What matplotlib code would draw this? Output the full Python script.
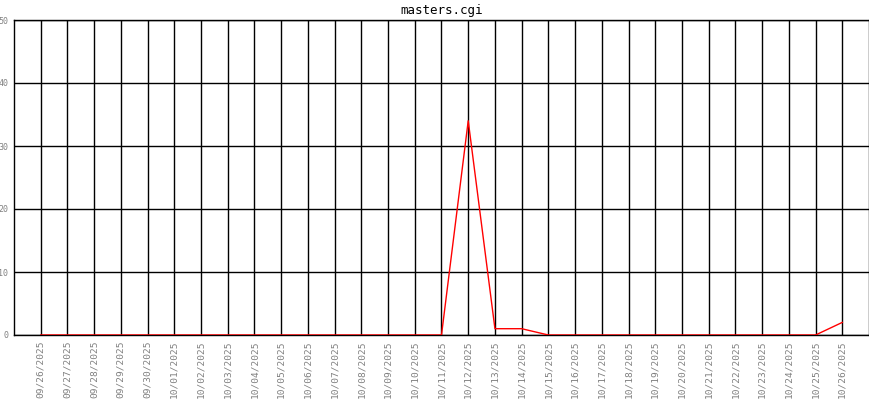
import matplotlib
matplotlib.use('Agg')
import matplotlib.pyplot as plt

# data
dates = ['09/26/2025', '09/27/2025', '09/28/2025', '09/29/2025', '09/30/2025',
         '10/01/2025', '10/02/2025', '10/03/2025', '10/04/2025', '10/05/2025',
         '10/06/2025', '10/07/2025', '10/08/2025', '10/09/2025', '10/10/2025',
         '10/11/2025', '10/12/2025', '10/13/2025', '10/14/2025', '10/15/2025',
         '10/16/2025', '10/17/2025', '10/18/2025', '10/19/2025', '10/20/2025',
         '10/21/2025', '10/22/2025', '10/23/2025', '10/24/2025', '10/25/2025',
         '10/26/2025']
hits = [0, 0, 0, 0, 0, 0, 0, 0, 0, 0, 0, 0, 0, 0, 0, 0, 34, 1, 1, 0,
        0, 0, 0, 0, 0, 0, 0, 0, 0, 0, 2]
yticks = [0, 10, 20, 30, 40, 50]

fig = plt.figure(figsize=(8.7, 4), dpi=100)
ax = fig.add_axes([14/870, 65/400, 855/870, 315/400])

x = list(range(len(dates)))
ax.plot(x, hits, color='red', lw=1, zorder=3)

ax.set_xlim(-1, 31)
ax.set_ylim(0, 50)
ax.set_xticks(x)
ax.set_xticklabels(dates, rotation=90, family='DejaVu Sans Mono', fontsize=6.8, color='#808080')
ax.set_yticks(yticks)
ax.set_yticklabels([str(v) for v in yticks], family='DejaVu Sans Mono', fontsize=6, color='#808080')
ax.tick_params(length=0, pad=4)
ax.grid(True, color='black', lw=1)
ax.set_axisbelow(True)
for s in ax.spines.values():
    s.set_linewidth(1)
ax.set_title('masters.cgi', family='DejaVu Sans Mono', fontsize=9, pad=4)

fig.savefig('out.png', dpi=100)
